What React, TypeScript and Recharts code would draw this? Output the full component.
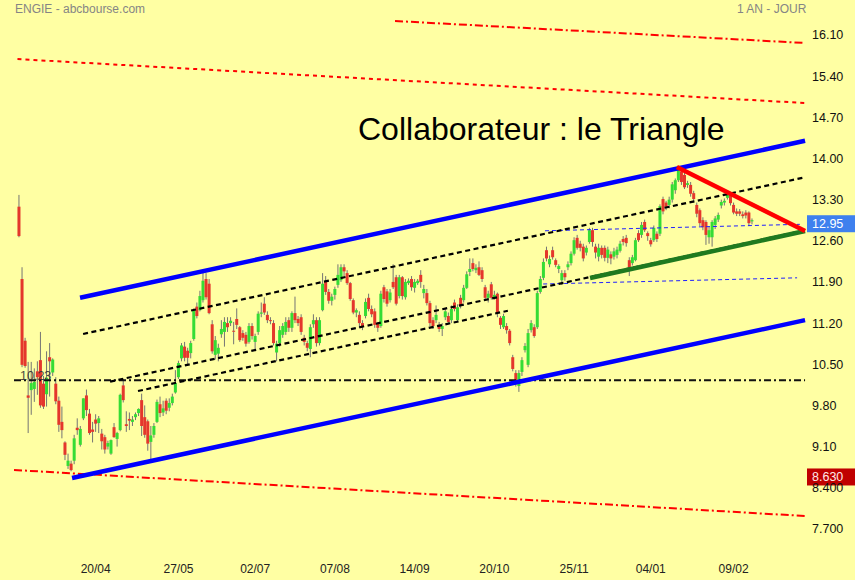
import React from 'react';
import { ComposedChart, Bar, XAxis, YAxis, ReferenceLine } from 'recharts';

// ---- candle data (ENGIE daily) ----
const opens = [
  13.18, 11.95, 10.90, 9.97, 10.06, 10.08, 10.38, 10.57, 10.17, 9.99,
  10.62, 10.36, 10.17, 9.88, 9.52, 9.17, 8.77, 8.81, 8.86, 9.42,
  9.13, 9.58, 9.97, 9.66, 9.39, 9.56, 9.50, 9.32, 9.26, 9.10,
  8.98, 9.43, 9.23, 9.38, 10.14, 9.48, 9.57, 9.52, 9.60, 9.67,
  9.89, 9.60, 9.53, 9.18, 9.30, 9.52, 9.82, 9.68, 9.88, 9.76,
  9.84, 10.02, 10.28, 10.60, 10.80, 10.73, 10.69, 10.93, 11.48, 11.42,
  11.59, 11.95, 11.87, 11.18, 10.66, 10.68, 11.01, 11.05, 11.20, 11.20,
  11.07, 11.27, 11.13, 11.03, 11.00, 10.88, 11.15, 10.88, 11.05, 11.36,
  11.53, 11.34, 11.25, 11.20, 10.70, 10.86, 11.00, 11.05, 11.25, 11.12,
  11.37, 11.27, 11.30, 10.95, 10.86, 10.76, 11.18, 11.25, 10.86, 11.42,
  11.90, 11.73, 11.58, 11.68, 11.85, 11.93, 12.15, 12.05, 11.88, 11.59,
  11.38, 11.34, 11.20, 11.32, 11.63, 11.44, 11.40, 11.19, 11.15, 11.81,
  11.74, 11.59, 11.90, 11.98, 11.66, 11.98, 11.64, 11.88, 11.95, 11.80,
  11.88, 12.02, 11.71, 11.71, 11.54, 11.25, 11.25, 11.17, 11.10, 11.30,
  11.32, 11.25, 11.55, 11.25, 11.63, 11.59, 11.80, 12.07, 12.22, 12.10,
  12.15, 12.10, 11.81, 11.63, 11.86, 11.63, 11.70, 11.29, 11.13, 11.15,
  11.07, 10.62, 10.35, 10.13, 10.37, 10.74, 10.49, 11.08, 11.13, 11.13,
  11.73, 11.97, 12.44, 12.20, 12.44, 12.27, 12.12, 11.93, 12.05, 12.15,
  12.22, 12.38, 12.65, 12.55, 12.50, 12.40, 12.58, 12.78, 12.50, 12.33,
  12.48, 12.48, 12.31, 12.37, 12.33, 12.36, 12.43, 12.63, 12.65, 12.27,
  12.22, 12.27, 12.73, 12.70, 12.92, 12.73, 12.61, 12.61, 12.72, 12.72,
  13.31, 13.25, 13.21, 13.30, 13.46, 13.63, 13.78, 13.72, 13.55, 13.55,
  13.41, 13.21, 13.12, 12.95, 12.92, 12.66, 12.66, 12.87, 12.96, 13.20,
  13.25, 13.33, 13.38, 13.21, 13.10, 13.10, 13.05, 13.08, 13.08, 12.93,
];
const highs = [
  13.38, 12.15, 10.95, 10.54, 10.54, 10.43, 10.55, 11.05, 10.30, 10.72,
  10.86, 10.60, 10.28, 9.95, 9.78, 9.19, 8.98, 8.86, 9.30, 9.58,
  9.45, 9.92, 10.07, 9.74, 9.52, 9.65, 9.62, 9.40, 9.30, 9.20,
  9.22, 9.50, 9.35, 10.00, 10.24, 9.70, 9.68, 9.62, 9.68, 9.75,
  10.00, 9.80, 9.56, 9.45, 9.50, 9.90, 9.95, 9.88, 9.92, 9.92,
  10.00, 10.40, 10.56, 10.86, 10.88, 10.78, 10.90, 11.45, 11.55, 11.75,
  12.06, 12.05, 11.95, 11.25, 10.98, 10.85, 11.25, 11.30, 11.30, 11.30,
  11.22, 11.45, 11.15, 11.08, 11.05, 11.20, 11.20, 11.02, 11.40, 11.55,
  11.64, 11.40, 11.30, 11.25, 10.90, 11.15, 11.20, 11.30, 11.30, 11.40,
  11.65, 11.32, 11.35, 11.00, 10.90, 11.18, 11.35, 11.30, 11.30, 12.05,
  12.00, 11.78, 11.70, 11.82, 12.20, 12.20, 12.20, 12.10, 11.90, 11.62,
  11.45, 11.40, 11.25, 11.62, 11.70, 11.50, 11.45, 11.22, 11.75, 11.85,
  11.78, 11.78, 12.20, 12.02, 12.02, 12.00, 11.95, 11.96, 12.00, 11.95,
  11.95, 12.10, 11.85, 11.78, 11.58, 11.30, 11.50, 11.22, 11.20, 11.45,
  11.38, 11.50, 11.60, 11.52, 11.68, 11.85, 12.08, 12.30, 12.30, 12.20,
  12.25, 12.15, 11.85, 11.75, 11.90, 11.75, 11.72, 11.32, 11.36, 11.20,
  11.10, 10.66, 10.40, 10.40, 10.62, 10.86, 11.10, 11.25, 11.18, 11.75,
  12.00, 12.30, 12.50, 12.35, 12.50, 12.30, 12.20, 12.10, 12.10, 12.25,
  12.42, 12.66, 12.70, 12.60, 12.55, 12.52, 12.82, 12.82, 12.55, 12.55,
  12.52, 12.52, 12.50, 12.42, 12.48, 12.50, 12.60, 12.68, 12.70, 12.32,
  12.36, 12.65, 12.78, 12.92, 12.96, 12.76, 12.65, 12.86, 12.76, 13.22,
  13.35, 13.28, 13.35, 13.60, 13.66, 13.85, 13.83, 13.76, 13.62, 13.60,
  13.45, 13.25, 13.15, 13.00, 12.95, 12.85, 12.95, 13.02, 13.08, 13.30,
  13.32, 13.46, 13.42, 13.25, 13.15, 13.14, 13.10, 13.12, 13.10, 12.98,
];
const lows = [
  12.66, 10.45, 10.44, 9.33, 9.64, 9.86, 9.98, 9.76, 9.74, 9.78,
  9.95, 10.30, 9.82, 9.35, 9.24, 8.87, 8.72, 8.68, 8.80, 9.30,
  9.10, 9.55, 9.62, 9.30, 9.17, 9.35, 9.33, 9.05, 8.98, 9.05,
  8.96, 9.25, 9.10, 9.36, 9.85, 9.35, 9.38, 9.45, 9.55, 9.62,
  9.28, 9.25, 9.03, 8.88, 9.25, 9.50, 9.60, 9.62, 9.65, 9.70,
  9.80, 10.00, 10.25, 10.55, 10.55, 10.48, 10.60, 10.90, 11.28, 11.40,
  11.55, 11.60, 11.35, 10.68, 10.58, 10.55, 10.95, 10.80, 11.05, 11.15,
  10.84, 11.10, 10.88, 10.90, 10.80, 10.85, 10.92, 10.75, 11.00, 11.30,
  11.34, 11.20, 11.18, 10.82, 10.55, 10.80, 10.95, 11.00, 11.05, 11.05,
  11.20, 11.15, 11.00, 10.82, 10.72, 10.62, 11.12, 10.80, 10.82, 11.40,
  11.68, 11.53, 11.50, 11.60, 11.80, 11.90, 12.00, 11.85, 11.58, 11.35,
  11.30, 11.12, 11.08, 11.28, 11.40, 11.30, 11.12, 11.05, 11.12, 11.55,
  11.48, 11.55, 11.78, 11.50, 11.62, 11.60, 11.60, 11.85, 11.75, 11.72,
  11.85, 11.80, 11.62, 11.50, 11.15, 11.10, 11.20, 11.05, 10.98, 11.25,
  11.18, 11.20, 11.40, 11.22, 11.45, 11.55, 11.78, 12.00, 12.08, 12.05,
  12.00, 11.90, 11.58, 11.55, 11.60, 11.60, 11.30, 11.10, 11.10, 11.02,
  10.82, 10.38, 10.12, 10.03, 10.30, 10.70, 10.45, 11.04, 10.95, 11.10,
  11.70, 11.93, 12.25, 12.15, 12.28, 12.15, 12.05, 11.85, 11.92, 12.10,
  12.18, 12.35, 12.45, 12.42, 12.25, 12.35, 12.55, 12.50, 12.30, 12.25,
  12.30, 12.25, 12.22, 12.20, 12.28, 12.30, 12.40, 12.52, 12.50, 12.00,
  12.18, 12.25, 12.58, 12.65, 12.75, 12.60, 12.50, 12.58, 12.58, 12.68,
  13.05, 13.12, 13.15, 13.25, 13.40, 13.60, 13.55, 13.48, 13.50, 13.35,
  13.25, 13.00, 12.85, 12.78, 12.53, 12.55, 12.50, 12.80, 12.92, 13.15,
  13.20, 13.30, 13.20, 13.05, 13.02, 13.02, 12.98, 12.98, 12.85, 12.88,
];
const closes = [
  12.68, 10.49, 10.47, 9.93, 10.18, 10.20, 10.28, 9.80, 9.78, 10.27,
  10.55, 10.58, 9.87, 9.47, 9.38, 8.96, 8.86, 8.70, 9.24, 9.38,
  9.40, 9.92, 9.72, 9.33, 9.35, 9.49, 9.58, 9.19, 9.05, 9.16,
  9.21, 9.26, 9.33, 9.98, 9.89, 9.45, 9.54, 9.56, 9.65, 9.74,
  9.45, 9.30, 9.15, 9.29, 9.45, 9.86, 9.67, 9.75, 9.71, 9.84,
  9.95, 10.18, 10.52, 10.82, 10.61, 10.61, 10.86, 11.42, 11.32, 11.66,
  11.92, 11.64, 11.37, 10.72, 10.91, 10.78, 11.10, 11.22, 11.13, 11.24,
  11.06, 11.17, 10.91, 10.95, 10.85, 11.15, 10.98, 10.98, 11.36, 11.38,
  11.38, 11.25, 11.24, 10.86, 10.85, 11.08, 11.15, 11.22, 11.12, 11.37,
  11.25, 11.20, 11.05, 10.88, 10.78, 11.13, 11.25, 10.86, 11.25, 11.87,
  11.73, 11.58, 11.65, 11.78, 12.02, 12.15, 12.08, 11.88, 11.61, 11.38,
  11.42, 11.20, 11.15, 11.56, 11.44, 11.35, 11.17, 11.12, 11.70, 11.61,
  11.53, 11.72, 11.81, 11.53, 11.98, 11.66, 11.90, 11.92, 11.81, 11.90,
  11.92, 11.90, 11.78, 11.54, 11.20, 11.15, 11.34, 11.10, 11.15, 11.40,
  11.22, 11.44, 11.44, 11.47, 11.49, 11.80, 12.03, 12.12, 12.12, 12.14,
  12.02, 11.95, 11.63, 11.70, 11.63, 11.68, 11.37, 11.17, 11.32, 11.08,
  10.86, 10.42, 10.20, 10.35, 10.57, 10.81, 11.03, 11.20, 10.98, 11.71,
  11.95, 12.24, 12.30, 12.29, 12.32, 12.19, 12.17, 12.05, 11.98, 12.20,
  12.38, 12.61, 12.48, 12.48, 12.30, 12.48, 12.78, 12.58, 12.40, 12.48,
  12.36, 12.31, 12.45, 12.30, 12.42, 12.45, 12.55, 12.58, 12.56, 12.15,
  12.32, 12.61, 12.61, 12.87, 12.78, 12.68, 12.54, 12.82, 12.63, 13.19,
  13.10, 13.18, 13.30, 13.56, 13.63, 13.82, 13.60, 13.51, 13.58, 13.40,
  13.31, 13.06, 12.90, 12.83, 12.70, 12.78, 12.92, 12.98, 13.04, 13.26,
  13.28, 13.38, 13.24, 13.08, 13.06, 13.06, 13.02, 13.03, 12.90, 12.95,
];

// ---- axis ticks ----
const dateTickIndex = [25, 52, 77, 103, 129, 155, 181, 206, 233];
const dateTickLabels = ['20/04', '27/05', '02/07', '07/08', '14/09', '20/10', '25/11', '04/01', '09/02'];
const priceTicks = [16.1, 15.4, 14.7, 14.0, 13.3, 12.6, 11.9, 11.2, 10.5, 9.8, 9.1, 8.4, 7.7];
const priceTickLabels = ['16.10', '15.40', '14.70', '14.00', '13.30', '12.60', '11.90', '11.20', '10.50', '9.80', '9.10', '8.400', '7.700'];

// ---- drawn lines: [startIndex, startPrice, endIndex, endPrice] ----
const channelTop = [19.9, 11.63, 256.3, 14.3];
const channelBottom = [17.3, 8.566, 256.3, 11.25];
const midDashA = [20.9, 11.015, 256.3, 13.68];
const midDashB = [29.7, 10.204, 256.3, 12.78];
const midDashC = [38.8, 10.045, 159.4, 11.41];
const thinBlueHigh = [171.5, 12.77, 254.6, 12.88];
const thinBlueLow = [170.9, 11.865, 253.7, 11.97];
const triangleTop = [214.5, 13.855, 256.3, 12.767];
const triangleBottom = [186.2, 11.967, 256.3, 12.767];
const redDashDotTop = [122.6, 16.338, 256.3, 15.964];
const redDashed = [-0.5, 15.69, 256.3, 14.943];
const redDashDotBottom = [-1.63, 8.702, 256.3, 7.919];
const supportLevel = [-1.63, 10.23, 256.3, 10.23];

const supportLabel = '10.23';
const lastPriceLabel = '12.95';
const lastPriceLevel = 12.89;
const lowLabel = '8.630';
const lowLabelLevel = 8.583;

const data = opens.map((o, i) => ({
  i,
  o,
  h: highs[i],
  l: lows[i],
  c: closes[i],
  range: [lows[i], highs[i]],
}));

const FONT = '"Liberation Sans", Arial, sans-serif';
const BG = '#FFFFA3';

const Candle = (props: any) => {
  const { x, y, width, height, payload } = props;
  if (x == null || y == null || !payload) return null;
  const { o, h, l, c } = payload;
  const cx = x + width / 2;
  const top = Math.min(y, y + height);
  const hgt = Math.abs(height);
  const ppu = h === l ? 0 : hgt / (h - l);
  const yOf = (v: number) => top + (h - v) * ppu;
  const bTop = yOf(Math.max(o, c));
  const bBot = yOf(Math.min(o, c));
  const up = c >= o;
  return (
    <g>
      <line x1={cx} x2={cx} y1={top} y2={top + hgt} stroke="#747474" strokeWidth={1} />
      <rect
        x={cx - 1.5}
        y={bTop}
        width={3}
        height={Math.max(1, bBot - bTop)}
        fill={up ? '#35DC35' : '#E4372C'}
      />
    </g>
  );
};

const seg = (s: number[]) => [
  { x: s[0], y: s[1] },
  { x: s[2], y: s[3] },
];

const YTick = (props: any) => {
  const { y, payload } = props;
  const idx = priceTicks.findIndex((t) => Math.abs(t - payload.value) < 1e-6);
  return (
    <text x={812} y={y + 4.5} fontSize={12.5} fontFamily={FONT} fill="#111">
      {idx >= 0 ? priceTickLabels[idx] : ''}
    </text>
  );
};

const XTick = (props: any) => {
  const { x, payload } = props;
  const idx = dateTickIndex.indexOf(payload.value);
  return (
    <text x={x} y={573} fontSize={12} fontFamily={FONT} fill="#222" textAnchor="middle">
      {idx >= 0 ? dateTickLabels[idx] : ''}
    </text>
  );
};

const boxLabel = (text: string, fill: string, color: string) => (p: any) => {
  const vb = p.viewBox || {};
  const left = (vb.x || 0) + (vb.width || 0) + 2;
  return (
    <g>
      <rect x={left} y={vb.y - 8.5} width={50} height={17} fill={fill} />
      <text x={left + 5} y={vb.y + 4.5} fontSize={12.5} fontFamily={FONT} fill={color}>
        {text}
      </text>
    </g>
  );
};

export default function App() {
  return (
    <div
      style={{
        position: 'absolute',
        left: 0,
        top: 0,
        width: 855,
        height: 580,
        background: BG,
        fontFamily: FONT,
        overflow: 'hidden',
      }}
    >
      <ComposedChart
        width={855}
        height={580}
        data={data}
        margin={{ top: 0, right: 0, bottom: 0, left: 0 }}
      >
        <XAxis
          dataKey="i"
          type="number"
          domain={[-6.195, 256.28]}
          allowDataOverflow
          ticks={dateTickIndex}
          tick={<XTick />}
          tickLine={false}
          axisLine={false}
          height={25}
          interval={0}
        />
        <YAxis
          orientation="right"
          type="number"
          domain={[7.256, 16.695]}
          allowDataOverflow
          ticks={priceTicks}
          tick={<YTick />}
          tickLine={false}
          axisLine={false}
          width={50}
          interval={0}
        />
        <Bar dataKey="range" barSize={3} shape={<Candle />} isAnimationActive={false} />

        <ReferenceLine segment={seg(redDashed)} stroke="#FF0000" strokeWidth={2} strokeDasharray="4 4" ifOverflow="visible" />
        <ReferenceLine segment={seg(redDashDotTop)} stroke="#FF0000" strokeWidth={2} strokeDasharray="8 3 2 3" ifOverflow="visible" />
        <ReferenceLine segment={seg(redDashDotBottom)} stroke="#FF0000" strokeWidth={2} strokeDasharray="8 3 2 3" ifOverflow="visible" />
        <ReferenceLine segment={seg(supportLevel)} stroke="#111" strokeWidth={2} strokeDasharray="7 3 2 3" ifOverflow="visible" />
        <ReferenceLine segment={seg(thinBlueHigh)} stroke="#2020FF" strokeWidth={1} strokeDasharray="4 3" ifOverflow="visible" />
        <ReferenceLine segment={seg(thinBlueLow)} stroke="#2020FF" strokeWidth={1} strokeDasharray="4 3" ifOverflow="visible" />
        <ReferenceLine segment={seg(midDashA)} stroke="#000" strokeWidth={2.2} strokeDasharray="5 3.5" ifOverflow="visible" />
        <ReferenceLine segment={seg(midDashB)} stroke="#000" strokeWidth={2.2} strokeDasharray="5 3.5" ifOverflow="visible" />
        <ReferenceLine segment={seg(midDashC)} stroke="#000" strokeWidth={2.2} strokeDasharray="5 3.5" ifOverflow="visible" />
        <ReferenceLine segment={seg(channelTop)} stroke="#0000FF" strokeWidth={4.5} ifOverflow="visible" />
        <ReferenceLine segment={seg(channelBottom)} stroke="#0000FF" strokeWidth={4.5} ifOverflow="visible" />
        <ReferenceLine segment={seg(triangleBottom)} stroke="#1F7A1F" strokeWidth={4.5} ifOverflow="visible" />
        <ReferenceLine segment={seg(triangleTop)} stroke="#FF0000" strokeWidth={4.5} ifOverflow="visible" />
        <ReferenceLine y={lastPriceLevel} stroke="none" ifOverflow="visible" label={boxLabel(lastPriceLabel, '#3E80EE', '#FFFFFF')} />
        <ReferenceLine y={lowLabelLevel} stroke="none" ifOverflow="visible" label={boxLabel(lowLabel, '#C00000', '#FFE8E8')} />
      </ComposedChart>

      <div style={{ position: 'absolute', left: 15, top: 3, fontSize: 12, lineHeight: '12px', color: '#858585', whiteSpace: 'nowrap' }}>
        ENGIE - abcbourse.com
      </div>
      <div style={{ position: 'absolute', left: 737, top: 3, fontSize: 12, lineHeight: '12px', color: '#858585', whiteSpace: 'nowrap' }}>
        1 AN - JOUR
      </div>
      <div style={{ position: 'absolute', left: 358, top: 113, fontSize: 32, lineHeight: '32px', color: '#000', whiteSpace: 'nowrap' }}>
        Collaborateur : le Triangle
      </div>
      <div style={{ position: 'absolute', left: 20, top: 370, fontSize: 12.5, lineHeight: '13px', color: '#333', opacity: 0.9, whiteSpace: 'nowrap', pointerEvents: 'none' }}>
        {supportLabel}
      </div>
    </div>
  );
}
